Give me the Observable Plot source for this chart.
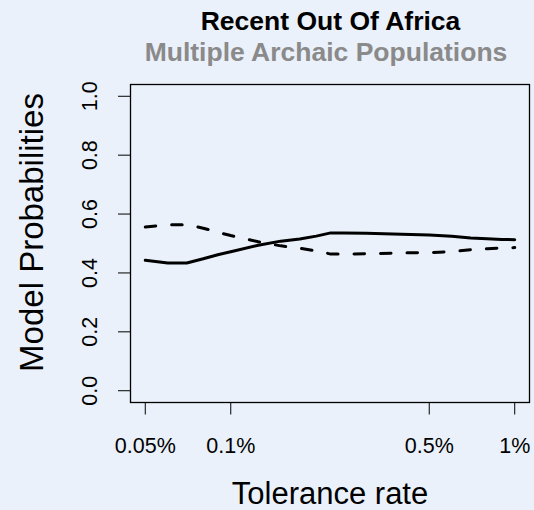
<!DOCTYPE html>
<html>
<head>
<meta charset="utf-8">
<script src="https://cdn.jsdelivr.net/npm/d3@7"></script>
<script src="https://cdn.jsdelivr.net/npm/@observablehq/plot@0.6"></script>
<style>
  body { margin: 0; background: #eaf1fa; }
  #fig { position: relative; width: 534px; height: 510px; background: #eaf1fa; font-family: "Liberation Sans", Arial, sans-serif; }
  #fig svg { position: absolute; left: 0; top: 0; }
  .ttl { position: absolute; left: 125px; right: 0; text-align: center; font-weight: bold; white-space: nowrap; line-height: 1; }
</style>
</head>
<body>
<div id="fig">
  <div class="ttl" style="top: 8px; left: 127px; font-size: 26.5px; color: #000;">Recent Out Of Africa</div>
  <div class="ttl" style="top: 39px; left: 118px; font-size: 26.5px; color: #8a8a8a;">Multiple Archaic Populations</div>
</div>
<script>
// Tolerance rates (in percent of simulations kept)
const rates = [0.05, 0.06, 0.07, 0.08, 0.09, 0.1, 0.125, 0.15, 0.175, 0.2, 0.225, 0.25, 0.3, 0.4, 0.5, 0.6, 0.7, 0.8, 0.9, 1.0];
// Posterior probability of each model at each tolerance rate
const probSolid  = [0.443, 0.434, 0.434, 0.448, 0.462, 0.472, 0.494, 0.508, 0.515, 0.525, 0.536, 0.536, 0.535, 0.531, 0.529, 0.525, 0.519, 0.516, 0.514, 0.513];
const probDashed = [0.556, 0.564, 0.564, 0.552, 0.538, 0.527, 0.506, 0.492, 0.484, 0.475, 0.464, 0.464, 0.465, 0.468, 0.469, 0.472, 0.479, 0.482, 0.485, 0.486];

const xTicks = [0.05, 0.1, 0.5, 1];
const xTickLabels = ["0.05%", "0.1%", "0.5%", "1%"];
const yTicks = [0, 0.2, 0.4, 0.6, 0.8, 1];
const yTickLabels = ["0.0", "0.2", "0.4", "0.6", "0.8", "1.0"];

const solidRows = rates.map((r, i) => ({rate: r, p: probSolid[i]}));
const dashedRows = rates.map((r, i) => ({rate: r, p: probDashed[i]}));

// extend each axis range by 4% on both sides
const lx0 = Math.log10(rates[0]), lx1 = Math.log10(rates[rates.length - 1]);
const padX = (lx1 - lx0) * 0.04;
const xDomain = [Math.pow(10, lx0 - padX), Math.pow(10, lx1 + padX)];
const yDomain = [-0.04, 1.04];

const fontFamily = '"Liberation Sans", Arial, sans-serif';

const chart = Plot.plot({
  width: 534,
  height: 510,
  marginLeft: 130,
  marginRight: 5,
  marginTop: 84,
  marginBottom: 108,
  style: {background: "transparent", fontFamily, color: "#000"},
  x: {type: "log", domain: xDomain},
  y: {domain: yDomain},
  marks: [
    Plot.axisX(xTicks, {tickSize: 12.5, tickFormat: () => "", label: null, stroke: "#000"}),
    Plot.text(xTicks, {
      frameAnchor: "bottom", x: (d) => d, text: (d, i) => xTickLabels[i],
      dy: 35.5, lineAnchor: "top", fontSize: 21.5, fill: "#000"
    }),
    Plot.axisY(yTicks, {tickSize: 12, tickFormat: () => "", label: null, stroke: "#000"}),
    Plot.text(yTicks, {
      frameAnchor: "left", y: (d) => d, text: (d, i) => yTickLabels[i],
      rotate: -90, dx: -40, textAnchor: "middle", lineAnchor: "middle",
      fontSize: 21.5, fill: "#000"
    }),
    Plot.line(dashedRows, {x: "rate", y: "p", stroke: "#000", strokeWidth: 3, strokeDasharray: "10.5,16", strokeLinecap: "round"}),
    Plot.line(solidRows, {x: "rate", y: "p", stroke: "#000", strokeWidth: 3}),
    Plot.frame({stroke: "#000", strokeWidth: 1.3}),
    Plot.text(["Tolerance rate"], {
      frameAnchor: "bottom", text: (d) => d, dy: 101, lineAnchor: "bottom",
      fontSize: 31, fill: "#000"
    }),
    Plot.text(["Model Probabilities"], {
      frameAnchor: "left", text: (d) => d, dx: -98, dy: -11, rotate: -90,
      textAnchor: "middle", lineAnchor: "middle", fontSize: 33, fill: "#000"
    })
  ]
});

document.getElementById("fig").prepend(chart);
</script>
</body>
</html>
